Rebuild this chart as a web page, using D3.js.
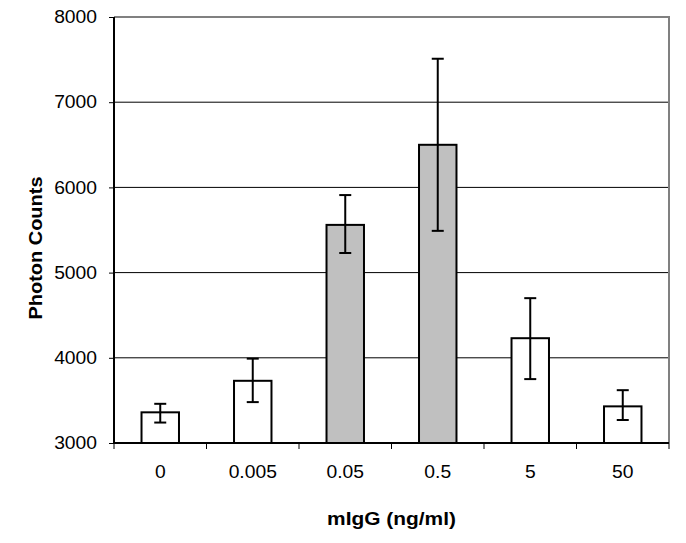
<!DOCTYPE html>
<html>
<head>
<meta charset="utf-8">
<script src="https://cdn.jsdelivr.net/npm/d3@7"></script>
<style>
  body { margin: 0; background: #fff; }
  text { font-family: "Liberation Sans", Arial, sans-serif; fill: #000; }
</style>
</head>
<body>
<script>
// data
const doses = ["0", "0.005", "0.05", "0.5", "5", "50"]
const counts = [3360, 3730, 5560, 6500, 4230, 3430]
const errLow = [3240, 3480, 5230, 5490, 3750, 3270]
const errHigh = [3460, 3990, 5910, 7510, 4700, 3620]
const shaded = [false, false, true, true, false, false]
const yTicks = [3000, 4000, 5000, 6000, 7000, 8000]

const data = doses.map((d, i) => ({
  dose: d, v: counts[i], lo: errLow[i], hi: errHigh[i], grey: shaded[i]
}))

const W = 686, H = 543
const margin = {top: 17, right: 17, bottom: 100, left: 114}
const width = W - margin.left - margin.right
const height = H - margin.top - margin.bottom
const font = "'Liberation Sans', Arial, sans-serif"

// the original text is drawn a little wider than Arial
const stretch = (sel, k) => sel.each(function () {
  this.setAttribute("textLength", this.getComputedTextLength() * k)
  this.setAttribute("lengthAdjust", "spacingAndGlyphs")
})

const svg = d3.select("body").append("svg")
  .attr("width", W)
  .attr("height", H)

const g = svg.append("g")
  .attr("transform", `translate(${margin.left},${margin.top})`)

const x = d3.scaleBand()
  .domain(doses)
  .range([0, width])
  .paddingInner(0.595)
  .paddingOuter(0.2975)

const y = d3.scaleLinear()
  .domain([3000, 8000])
  .range([height, 0])

// gridlines
g.selectAll(".grid")
  .data(yTicks.slice(1, -1))
  .enter().append("line")
    .attr("class", "grid")
    .attr("x1", 0).attr("x2", width)
    .attr("y1", d => y(d)).attr("y2", d => y(d))
    .attr("stroke", "#000").attr("stroke-width", 1)

// grey frame top + right
g.append("path")
  .attr("d", `M0,${y(8000)}H${width}V${height}`)
  .attr("fill", "none")
  .attr("stroke", "#808080")
  .attr("stroke-width", 2)

// bars
g.selectAll(".bar")
  .data(data)
  .enter().append("rect")
    .attr("class", "bar")
    .attr("x", d => x(d.dose))
    .attr("width", x.bandwidth())
    .attr("y", d => y(d.v))
    .attr("height", d => height - y(d.v))
    .attr("fill", d => d.grey ? "#c0c0c0" : "#fff")
    .attr("stroke", "#000")
    .attr("stroke-width", 2)

// error bars
const cap = 6
const eb = g.selectAll(".err")
  .data(data)
  .enter().append("g")
    .attr("class", "err")
    .attr("transform", d => `translate(${x(d.dose) + x.bandwidth() / 2},0)`)

eb.append("line")
  .attr("y1", d => y(d.lo)).attr("y2", d => y(d.hi))
  .attr("stroke", "#000").attr("stroke-width", 2)
eb.append("line")
  .attr("x1", -cap).attr("x2", cap)
  .attr("y1", d => y(d.hi)).attr("y2", d => y(d.hi))
  .attr("stroke", "#000").attr("stroke-width", 2)
eb.append("line")
  .attr("x1", -cap).attr("x2", cap)
  .attr("y1", d => y(d.lo)).attr("y2", d => y(d.lo))
  .attr("stroke", "#000").attr("stroke-width", 2)

// y axis
const yAxis = d3.axisLeft(y)
  .tickValues(yTicks)
  .tickSize(5)
  .tickPadding(12)
  .tickFormat(d3.format("d"))

g.append("g")
  .attr("class", "y axis")
  .call(yAxis)
  .call(s => s.select(".domain").attr("stroke-width", 2).attr("d", `M0,${height}V0`))
  .call(s => s.selectAll("text").attr("font-size", 18).style("font-family", font))
  .call(s => stretch(s.selectAll("text"), 1.07))

// x axis: labels centred on bands, ticks on band boundaries
const xAxis = d3.axisBottom(x)
  .tickSize(0)
  .tickPadding(22)

g.append("g")
  .attr("class", "x axis")
  .attr("transform", `translate(0,${height})`)
  .call(xAxis)
  .call(s => s.select(".domain").attr("stroke-width", 2).attr("d", `M0,0H${width}`))
  .call(s => s.selectAll("text").attr("font-size", 18).style("font-family", font))
  .call(s => stretch(s.selectAll("text"), 1.07))

g.selectAll(".xtick")
  .data(d3.range(doses.length + 1))
  .enter().append("line")
    .attr("class", "xtick")
    .attr("x1", i => i * x.step()).attr("x2", i => i * x.step())
    .attr("y1", height).attr("y2", height + 6)
    .attr("stroke", "#000").attr("stroke-width", 1)

// axis titles
svg.append("text")
  .attr("x", margin.left + width / 2)
  .attr("y", 525)
  .attr("text-anchor", "middle")
  .attr("font-size", 19)
  .attr("font-weight", "bold")
  .text("mIgG (ng/ml)")
  .call(s => stretch(s, 1.1))

svg.append("text")
  .attr("transform", "translate(42,248) rotate(-90)")
  .attr("text-anchor", "middle")
  .attr("font-size", 19)
  .attr("font-weight", "bold")
  .text("Photon Counts")
  .call(s => stretch(s, 1.05))
</script>
</body>
</html>
